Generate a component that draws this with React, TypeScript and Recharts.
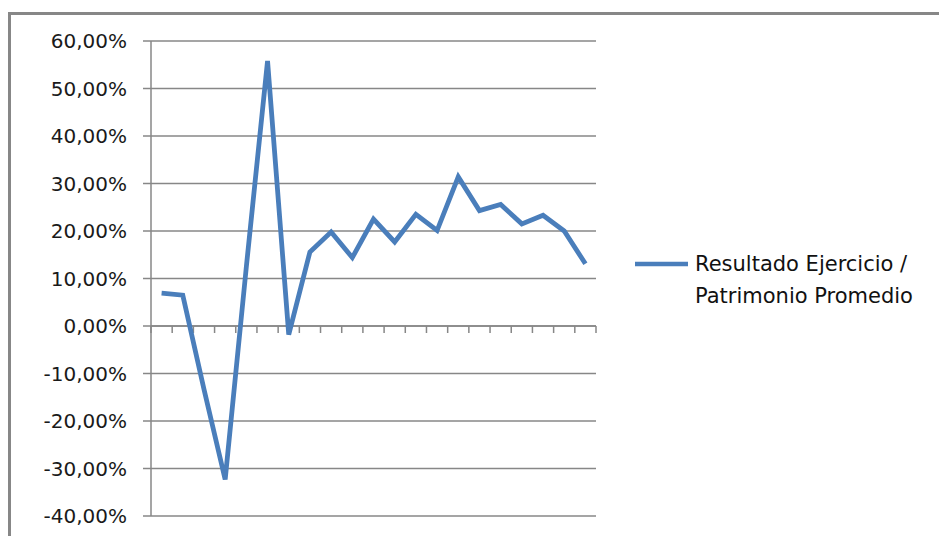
import React from 'react';
import { LineChart, Line, XAxis, YAxis, CartesianGrid, Legend } from 'recharts';

const periods = [1, 2, 3, 4, 5, 6, 7, 8, 9, 10, 11, 12, 13, 14, 15, 16, 17, 18, 19, 20, 21];
const values = [6.9, 6.5, -13.3, -32.3, 12.5, 55.8, -1.8, 15.6, 19.8, 14.4, 22.5, 17.7, 23.5, 20.1, 31.4, 24.3, 25.6, 21.5, 23.3, 20.0, 13.1];
const yTicks = [-40, -30, -20, -10, 0, 10, 20, 30, 40, 50, 60];
const boundaryTicks = [0, 1, 2, 3, 4, 5, 6, 7, 8, 9, 10, 11, 12, 13, 14, 15, 16, 17, 18, 19, 20, 21];
const seriesName = 'Resultado Ejercicio / Patrimonio Promedio';

const data = periods.map((p, i) => ({ period: p, x: i + 0.5, v: values[i] }));

const GRAY = '#878787';
const BLUE = '#4a7ebb';
const FONT = '"DejaVu Sans", Verdana, sans-serif';

const fmt = (v: number) => `${v.toFixed(2).replace('.', ',')}%`;

const renderLegend = (props: any) => {
  const item = props && props.payload && props.payload[0];
  const name = item ? item.value : seriesName;
  const color = item ? item.color : BLUE;
  return (
    <div style={{ position: 'relative', fontFamily: FONT, fontSize: 21, lineHeight: '31.5px', color: '#111' }}>
      <svg width={58} height={10} style={{ position: 'absolute', left: 0, top: 10 }}>
        <line x1={2} y1={5} x2={55} y2={5} stroke={color} strokeWidth={4.5} />
      </svg>
      <div style={{ marginLeft: 62, width: 232, whiteSpace: 'normal' }}>{name}</div>
    </div>
  );
};

export default function App() {
  return (
    <div style={{ position: 'fixed', left: 0, top: 0, width: 939, height: 536, overflow: 'hidden', background: '#fff' }}>
      <div
        style={{
          position: 'absolute',
          left: 8,
          top: 12,
          width: 960,
          height: 560,
          border: `3px solid ${GRAY}`,
          boxSizing: 'border-box',
        }}
      />
      <div style={{ position: 'absolute', left: 0, top: 0 }}>
        <LineChart width={939} height={346} data={data} margin={{ top: 41, right: 343, bottom: 0, left: 151 }}>
          <XAxis
            type="number"
            dataKey="x"
            domain={[0, 21]}
            ticks={boundaryTicks}
            interval={0}
            height={20}
            axisLine={{ stroke: GRAY, strokeWidth: 1.5 }}
            tickLine={{ stroke: GRAY, strokeWidth: 1.5 }}
            tickSize={7}
            tickFormatter={() => ''}
          />
        </LineChart>
      </div>
      <div style={{ position: 'absolute', left: 0, top: 0 }}>
        <LineChart width={939} height={536} data={data} margin={{ top: 41, right: 343, bottom: 20, left: 0 }}>
          <CartesianGrid vertical={false} stroke={GRAY} strokeWidth={1.5} />
          <XAxis type="number" dataKey="x" domain={[0, 21]} hide />
          <YAxis
            width={151}
            domain={[-40, 60]}
            ticks={yTicks}
            interval={0}
            tickFormatter={fmt}
            axisLine={{ stroke: GRAY, strokeWidth: 1.5 }}
            tickLine={{ stroke: GRAY, strokeWidth: 1.5 }}
            tickSize={8}
            tickMargin={16}
            tick={{ fill: '#1a1a1a', fontSize: 20, fontFamily: FONT }}
          />
          <Legend
            align="center"
            verticalAlign="middle"
            layout="horizontal"
            wrapperStyle={{ left: 633, top: 249, width: 300 }}
            content={renderLegend}
          />
          <Line
            type="linear"
            dataKey="v"
            name={seriesName}
            stroke={BLUE}
            strokeWidth={4.8}
            dot={false}
            activeDot={false}
            isAnimationActive={false}
          />
        </LineChart>
      </div>
    </div>
  );
}
